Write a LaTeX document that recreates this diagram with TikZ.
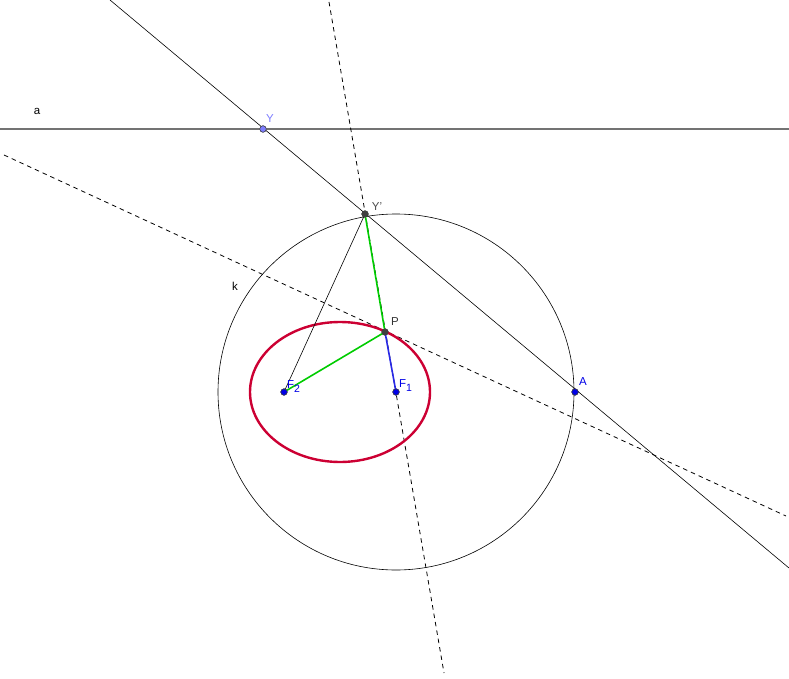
\documentclass[tikz,border=0pt]{standalone}
\usepackage{fontspec}
\setmainfont{Liberation Sans}
\usetikzlibrary{positioning}
\definecolor{ptblue}{RGB}{0,0,230}
\definecolor{ptlight}{RGB}{125,125,255}
\definecolor{ptdark}{RGB}{64,64,64}
\definecolor{ellred}{RGB}{204,0,51}
\definecolor{seggreen}{RGB}{0,204,0}
\definecolor{segblue}{RGB}{40,40,230}
\newcommand{\lowsub}[1]{\raisebox{-4.5pt}{\fontsize{10.5}{12}\selectfont #1}}
\tikzset{
    pt/.style={shape=circle, draw=black!75, line width=0.5pt, inner sep=0pt, minimum size=6.5pt},
    lbl/.style={font=\fontsize{11.5}{13}\selectfont, inner sep=0pt},
    thin line/.style={line width=0.6pt, black},
    dashline/.style={line width=0.8pt, black, dash pattern=on 4.5pt off 4pt}
}
\begin{document}
\begin{tikzpicture}[x=1pt, y=-1pt]
    \useasboundingbox (0,0) rectangle (789,679);
    % points
    \node [pt, fill=ptlight] (Y)  at (263,129) {};
    \node [pt, fill=ptdark]  (Yp) at (365,214) {};
    \node [pt, fill=ptdark]  (P)  at (385,332) {};
    \node [pt, fill=ptblue]  (F2) at (284,392) {};
    \node [pt, fill=ptblue]  (F1) at (396,392) {};
    \node [pt, fill=ptblue]  (A)  at (575,392) {};
    % free ends of the lines
    \coordinate (aL) at (0,129);
    \coordinate (aR) at (789,129);
    \coordinate (gTop) at (110,0);
    \coordinate (gBot) at (789,568);
    \coordinate (dTop) at (329,2);
    \coordinate (dBot) at (444,673);
    \coordinate (tL) at (4,155);
    \coordinate (tR) at (786,516);
    % lines
    \draw [line width=1.3pt, black!55] (aL) -- (aR);
    \draw [thin line] (gTop) -- (gBot);
    \draw [dashline] (dTop) -- (dBot);
    \draw [dashline] (tL) -- (tR);
    \draw [thin line] (F1) circle [radius=178];
    \draw [line width=2.4pt, ellred] (340,392) ellipse [x radius=90, y radius=70];
    \draw [thin line] (Yp.center) -- (F2.center);
    \draw [line width=1.6pt, seggreen] (Yp.center) -- (P.center) -- (F2.center);
    \draw [line width=1.6pt, segblue] (P.center) -- (F1.center);
    % redraw points on top
    \node [pt, fill=ptlight] at (Y) {};
    \node [pt, fill=ptdark]  at (Yp) {};
    \node [pt, fill=ptdark]  at (P) {};
    \node [pt, fill=ptblue]  at (F2) {};
    \node [pt, fill=ptblue]  at (F1) {};
    \node [pt, fill=ptblue]  at (A) {};
    % labels
    \node [lbl] (labA) at (37,111) {a};
    \node [lbl] (labk) at (235,286) {k};
    \node [lbl, text=ptlight] (labY) at (270,119) {Y};
    \node [lbl, text=black!70] (labYp) at (377,207) {Y'};
    \node [lbl, text=black!80] (labP) at (395,322) {P};
    \node [lbl, text=ptblue, anchor=base west] (labF2) at (287,388) {F\lowsub{2}};
    \node [lbl, text=ptblue, anchor=base west] (labF1) at (399,387) {F\lowsub{1}};
    \node [lbl, text=ptblue] (labPtA) at (583,382) {A};
\end{tikzpicture}
\end{document}
